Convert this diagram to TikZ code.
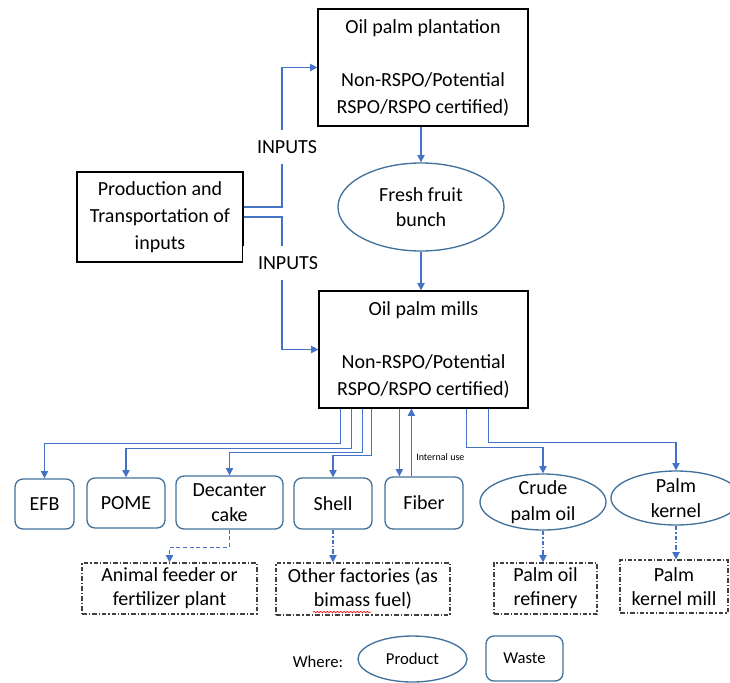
\documentclass[tikz,border=0pt]{standalone}
\usepackage{fontspec}
\setmainfont{Carlito}
\usetikzlibrary{arrows.meta,calc,shapes.geometric,decorations.pathmorphing}
\definecolor{cblue}{HTML}{4472C4}
\definecolor{bblue}{HTML}{41719C}
\definecolor{dgray}{HTML}{404040}
\begin{document}
\begin{tikzpicture}[x=0.75pt,y=-0.75pt,
  font=\fontsize{15}{20}\selectfont,
  sq/.style={draw=black, line width=0.9pt, align=center, inner sep=0pt},
  rbox/.style={draw=bblue, line width=1pt, rounded corners=6pt, align=center, inner sep=0pt, font=\fontsize{15}{18.5}\selectfont},
  prod/.style={draw=bblue, line width=1pt, ellipse, align=center, inner sep=-3pt, font=\fontsize{15}{19}\selectfont},
  dbox/.style={draw=dgray, line width=0.9pt, dash pattern=on 3.5pt off 1.5pt on 0.9pt off 1.5pt, align=center, inner sep=0pt, font=\fontsize{15}{18}\selectfont},
  conn/.style={draw=cblue, line width=0.95pt, -{Triangle[length=5.5pt,width=5.5pt]}},
  dconn/.style={conn, dash pattern=on 3pt off 2pt},
  ddconn/.style={conn, dash pattern=on 3.5pt off 1.5pt on 0.9pt off 1.5pt},
  lab/.style={fill=white, inner xsep=11pt, inner ysep=7.5pt},
  legfont/.style={font=\fontsize{12.5}{15}\selectfont}
]
\useasboundingbox (0,0) rectangle (730,682);

% main chain
\node[sq, minimum width=157.5pt, minimum height=87.75pt] (plant) at (423,67.5)
  {Oil palm plantation\\[20pt]Non-RSPO/Potential\\RSPO/RSPO certified)};
\node[prod, minimum width=124.5pt, minimum height=66pt] (ffb) at (421,207) {Fresh fruit\\bunch};
\node[sq, minimum width=156.75pt, minimum height=87.75pt] (mills) at (423.5,349.5)
  {Oil palm mills\\[20pt]Non-RSPO/Potential\\RSPO/RSPO certified)};
\node[sq, minimum width=124.5pt, minimum height=67.5pt] (src) at (160,217)
  {Production and\\Transportation of\\inputs};

\draw[conn] (ffb.north |- plant.south) -- (ffb.north);
\draw[conn] (ffb.south) -- (ffb.south |- mills.north);

\draw[conn] ($(src.east)+(0,-10)$) -- ++(38.5,0) |- (plant.west);
\draw[conn] (src.east) -- ++(38.5,0) |- (mills.west);

% bottom row
\node[rbox, minimum width=44.25pt, minimum height=37.5pt] (efb) at (44.5,504) {EFB};
\node[rbox, minimum width=58.5pt, minimum height=37.5pt] (pome) at (126,503) {POME};
\node[rbox, minimum width=80.25pt, minimum height=39.75pt] (dec) at (229.5,502.5) {Decanter\\cake};
\node[rbox, minimum width=58.5pt, minimum height=38.25pt] (shell) at (333,503.5) {Shell};
\node[rbox, minimum width=58.5pt, minimum height=39pt] (fiber) at (424,503) {Fiber};
\node[prod, minimum width=94.5pt, minimum height=42pt] (cpo) at (543,502) {Crude\\palm oil};
\node[prod, minimum width=97.5pt, minimum height=40.5pt] (pk) at (676,498) {Palm\\kernel};

\coordinate (m1) at ($(mills.south west)+(22,0)$);
\coordinate (m2) at ($(mills.south west)+(33,0)$);
\coordinate (m3) at ($(mills.south west)+(44,0)$);
\coordinate (m4) at ($(mills.south west)+(53,0)$);
\coordinate (m5) at ($(mills.south west)+(81,0)$);
\coordinate (m6) at ($(mills.south west)+(93,0)$);
\coordinate (m7) at ($(mills.south west)+(148,0)$);
\coordinate (m8) at ($(mills.south west)+(170,0)$);

\draw[conn] (m1) -- ++(0,35) -| (efb.north);
\draw[conn] (m2) -- ++(0,40) -| (pome.north);
\draw[conn] (m3) -- ++(0,44) -| (dec.north);
\draw[conn] (m4) -- ++(0,47) -| (shell.north);
\draw[conn] (m5) -- (m5 |- fiber.north);
\draw[conn] (fiber.north -| m6) -- (m6);
\draw[conn] (m7) -- ++(0,39) -| (cpo.north);
\draw[conn] (m8) -- ++(0,34) -| (pk.north);

\node[font=\fontsize{7.5}{9}\selectfont, anchor=west, inner sep=0pt] (iu) at (416,457) {Internal use};

% destinations
\node[dbox, minimum width=131.25pt, minimum height=38.25pt] (feed) at (169.5,588.5) {Animal feeder or\\fertilizer plant};
\node[dbox, minimum width=130.5pt, minimum height=39pt] (other) at (363,589) {Other factories (as\\bimass fuel)};
\node[dbox, minimum width=77.25pt, minimum height=38.25pt] (ref) at (545.5,588.5) {Palm oil\\refinery};
\node[dbox, minimum width=81pt, minimum height=39.75pt] (pkm) at (674,586.5) {Palm\\kernel mill};

\draw[dconn] (dec.south) -- ++(0,17.5) -| (feed.north);
\draw[ddconn] (shell.south) -- (shell.south |- other.north);
\draw[ddconn] (cpo.south) -- (cpo.south |- ref.north);
\draw[ddconn] (pk.south) -- (pk.south |- pkm.north);

\draw[red, line width=0.5pt, decorate, decoration={snake, amplitude=0.5pt, segment length=2.5pt}] (313,612) -- (371,612);

% legend
\node[legfont, inner sep=0pt] (where) at (318,662) {Where:};
\node[prod, legfont, minimum width=81.75pt, minimum height=34.5pt] (lprod) at (412.5,659) {Product};
\node[rbox, legfont, minimum width=57.75pt, minimum height=33.75pt] (lwaste) at (524.5,658.5) {Waste};

% labels over connectors
\node[lab] (in1) at (287,147) {INPUTS};
\node[lab] (in2) at (288,263) {INPUTS};
\end{tikzpicture}
\end{document}
